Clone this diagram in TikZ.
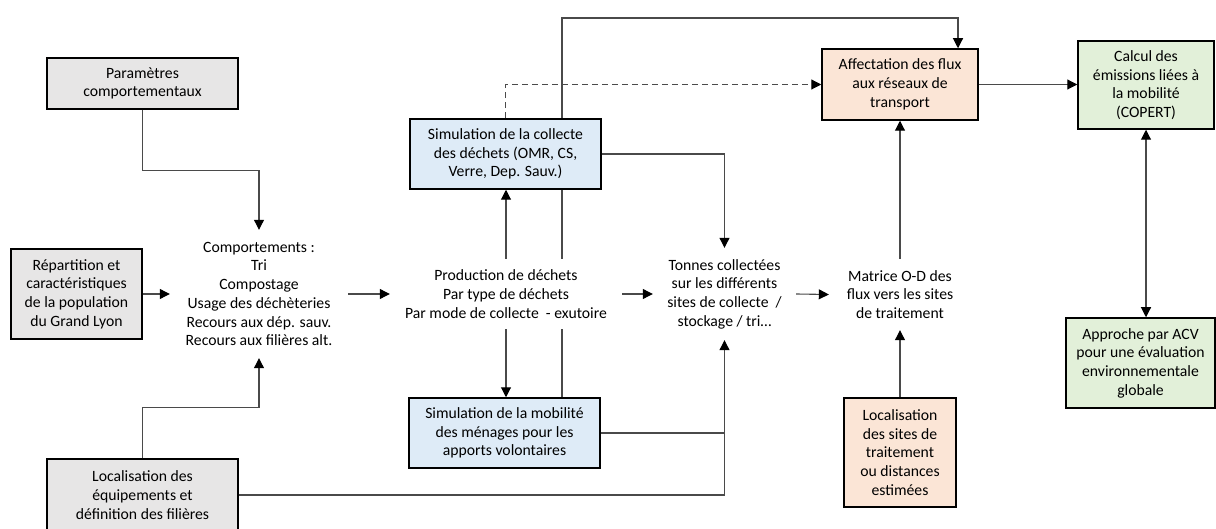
\documentclass[tikz,border=0pt]{standalone}
\usepackage{fontspec}
\setmainfont{Carlito}
\usetikzlibrary{arrows.meta,backgrounds}
\definecolor{boxgray}{HTML}{E7E6E6}
\definecolor{boxblue}{HTML}{DEEBF7}
\definecolor{boxorange}{HTML}{FBE5D6}
\definecolor{boxgreen}{HTML}{E2F0D9}
\definecolor{linegray}{HTML}{4A4A4A}
\newcommand\diagfont{\fontsize{15.7pt}{18.7pt}\selectfont}
\begin{document}
\begin{tikzpicture}[x=1pt,y=-1pt,
  box/.style={draw=black,line width=1.5pt,align=center,inner sep=0pt,font=\diagfont},
  txt/.style={align=center,inner sep=0pt,font=\diagfont},
  conn/.style={draw=linegray,line width=1.1pt},
  arr/.style={conn,-{Triangle[length=10pt,width=10pt,color=black]}},
  darr/.style={conn,{Triangle[length=10pt,width=10pt,color=black]}-{Triangle[length=10pt,width=10pt,color=black]}}]
\useasboundingbox (0,0) rectangle (1216,529);

% boxes
\node[box,fill=boxgray,minimum width=191pt,minimum height=51pt] (param) at (142.5,83.5) {Paramètres\\comportementaux};
\node[box,fill=boxgray,minimum width=131pt,minimum height=90pt] (repart) at (76.5,294) {Répartition et\\caractéristiques\\de la population\\du Grand Lyon};
\node[box,fill=boxgray,minimum width=191pt,minimum height=72pt] (loceq) at (142.5,495) {Localisation des\\équipements et\\définition des filières};
\node[box,fill=boxblue,minimum width=191pt,minimum height=70pt] (simcol) at (505.5,154) {Simulation de la collecte\\des déchets (OMR, CS,\\Verre, Dep. Sauv.)};
\node[box,fill=boxblue,minimum width=191pt,minimum height=70pt] (simmob) at (504.5,433) {Simulation de la mobilité\\des ménages pour les\\apports volontaires};
\node[box,fill=boxorange,minimum width=156pt,minimum height=71pt] (affect) at (900,84.5) {Affectation des flux\\aux réseaux de\\transport};
\node[box,fill=boxorange,minimum width=112pt,minimum height=109pt] (locsites) at (900,452.5) {Localisation\\des sites de\\traitement\\ou distances\\estimées};
\node[box,fill=boxgreen,minimum width=136pt,minimum height=88pt] (calcul) at (1146,85) {Calcul des\\émissions liées à\\la mobilité\\(COPERT)};
\node[box,fill=boxgreen,minimum width=149pt,minimum height=90pt] (approche) at (1140.5,363) {Approche par ACV\\pour une évaluation\\environnementale\\globale};

% text nodes
\node[txt,minimum width=178pt,minimum height=128pt] (comport) at (259,294) {Comportements :\\Tri\\Compostage\\Usage des déchèteries\\Recours aux dép. sauv.\\Recours aux filières alt.};
\node[txt,fill=white,minimum width=232pt,minimum height=70pt] (prod) at (506,294) {Production de déchets\\Par type de déchets\\Par mode de collecte\ \ - exutoire};
\node[txt,minimum width=143pt,minimum height=92pt] (tonnes) at (724.5,294) {Tonnes collectées\\sur les différents\\sites de collecte\ \ /\\stockage / tri…};
\node[txt,minimum width=142pt,minimum height=71pt] (matrice) at (900,294.5) {Matrice O-D des\\flux vers les sites\\de traitement};

\coordinate (tl) at (562,18);
\coordinate (tr) at (958,18);

\begin{scope}[on background layer]
\draw[arr] (tl |- simmob.north) -- (tl) -- (tr) -- (tr |- affect.north);
\end{scope}

\draw[arr] (param.south) -- ++(0,61) -| (comport.north);
\draw[arr] (repart.east) -- (comport.west);
\draw[arr] (loceq.north) -- ++(0,-51) -| (comport.south);
\draw[arr] (comport.east) -- (prod.west);
\draw[arr] (prod.north) -- (prod.north |- simcol.south);
\draw[arr] (prod.south) -- (prod.south |- simmob.north);
\draw[arr,dash pattern=on 6pt off 4pt] (simcol.north) |- (affect.west);
\draw[arr] (simcol.east) -| (tonnes.north);
\draw[arr] (prod.east) -- (tonnes.west);
\draw[conn] (simmob.east) -- (simmob.east -| tonnes.south);
\draw[arr] (loceq.east) -| (tonnes.south);
\draw[arr] (tonnes.east) -- (matrice.west);
\draw[arr] (matrice.north) -- (affect.south);
\draw[arr] (locsites.north) -- (matrice.south);
\draw[arr] (affect.east) -- (affect.east -| calcul.west);
\draw[darr] (calcul.south) -- (calcul.south |- approche.north);
\end{tikzpicture}
\end{document}
